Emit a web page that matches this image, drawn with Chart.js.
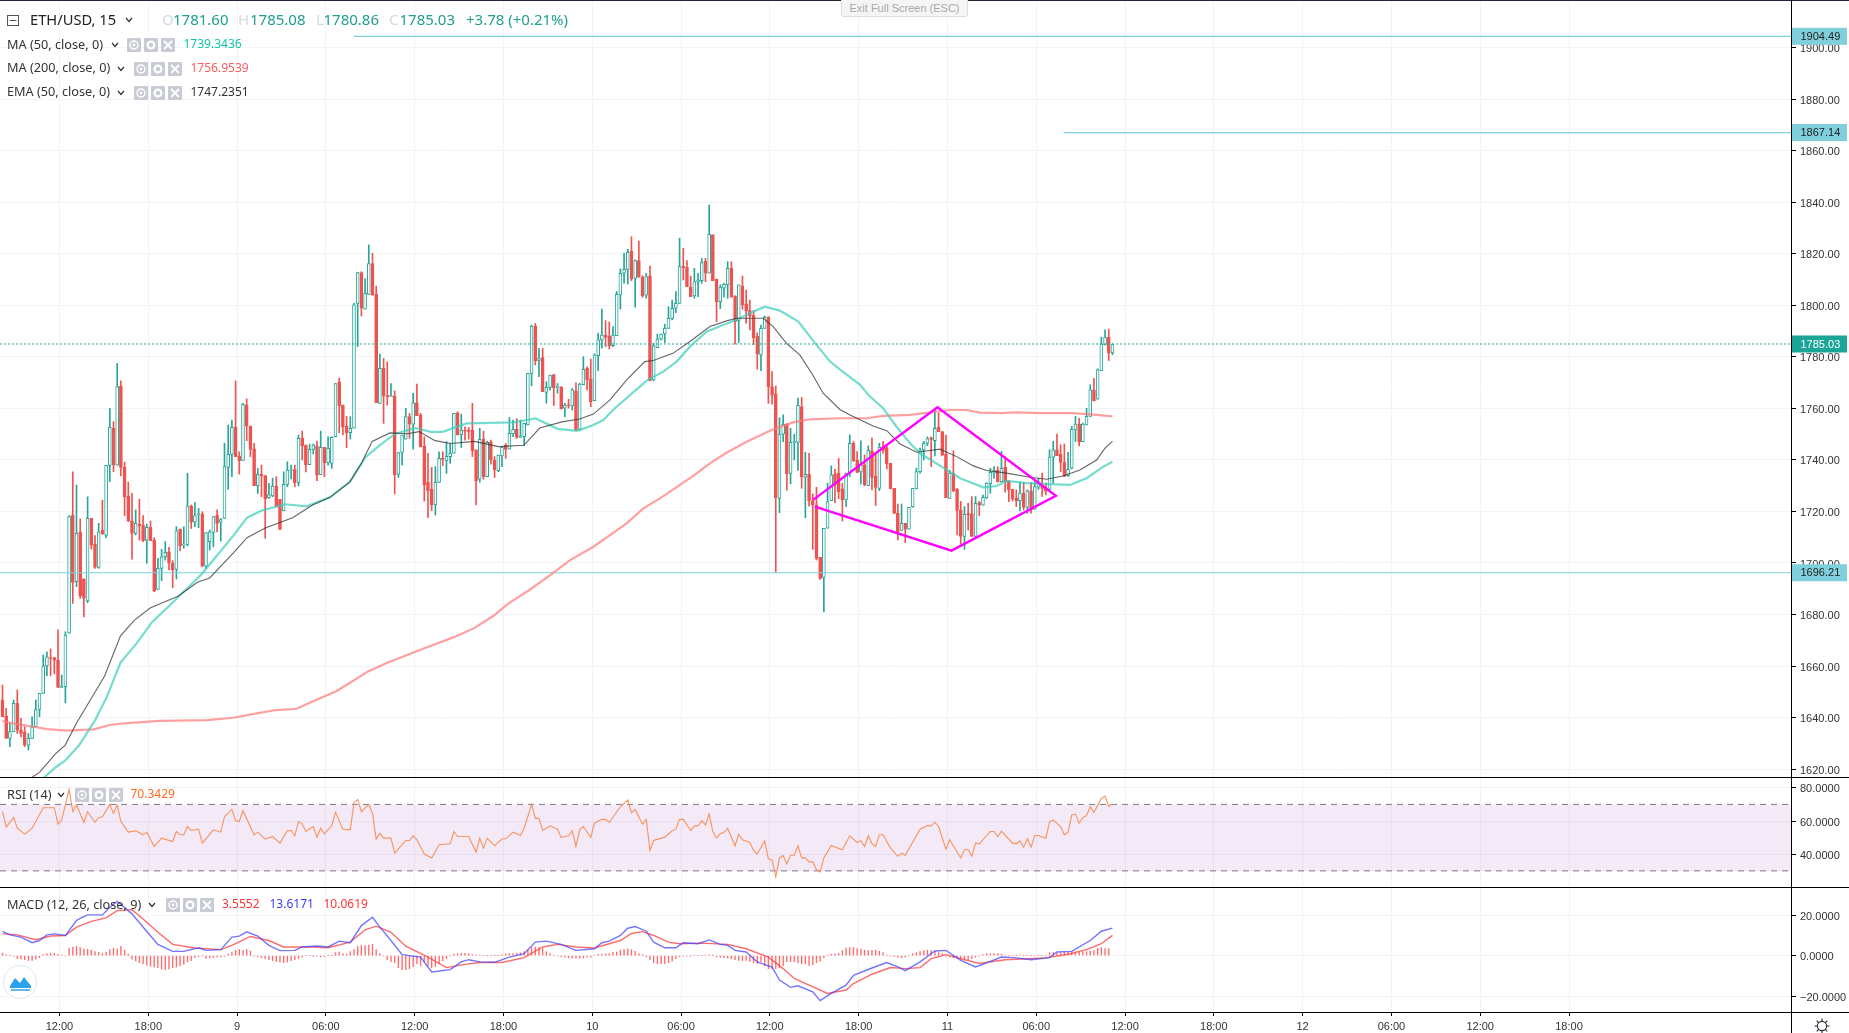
<!DOCTYPE html>
<html>
<head>
<meta charset="utf-8">
<title>ETH/USD, 15</title>
<script src="https://cdn.jsdelivr.net/npm/chart.js@4/dist/chart.umd.min.js"></script>
<style>
  html, body { margin: 0; padding: 0; background: #fff; overflow: hidden; }
  #page { position: relative; width: 1849px; height: 1033px; overflow: hidden; font-family: "Noto Sans", sans-serif; color: #333; }
  canvas { position: absolute; left: 0; }
  .txt { position: absolute; white-space: nowrap; line-height: 1; }
  .rule { position: absolute; background: #000; }
  svg { position: absolute; }
</style>
</head>
<body>
<div id="page">
  <canvas id="priceChart" width="1849" height="777" style="top:0"></canvas>
  <canvas id="rsiChart" width="1849" height="110" style="top:777px"></canvas>
  <canvas id="macdChart" width="1849" height="146" style="top:887px"></canvas>
</div>
<script>
// candles, one per 15 minutes, first bar is number 0
const opens = [
  1646.8,1640.6,1631.9,1634.5,1645.5,1635.1,1634.2,1629.3,1631.9,1636.4,1643.1,1649.4,1660,1663.3,1663.3,1662.3,1651.7,1652,1672.7,1718.6,1692.7,1712,1693.8,1685.3,1717.3,
  1707.4,1698.3,1712.8,1710.7,1737.9,1752.3,1738,1768.7,1737.1,1726,1716.2,1711.5,1715.1,1714.6,1708.9,1713.8,1708.9,1689.7,1697.9,1702.4,1704.3,1699.9,1697.5,1713.2,1707,
  1707,1722.1,1715.8,1718.8,1719,1698.8,1708.3,1711.9,1718.6,1715.8,1717.3,1737.1,1742.2,1752.7,1741.4,1739.8,1761.3,1753.2,1744.3,1730,1734.4,1733.9,1725.4,1726,1729.9,
  1724.7,1720.3,1730.5,1735.9,1736.3,1731.3,1748.4,1745.8,1738.2,1744.1,1745.5,1734.3,1744.9,1738.9,1738.7,1749,1770.1,1761.3,1753.2,1750.6,1752.3,1800.8,1812.8,1798.6,1804.3,
  1816.3,1804.3,1762,1775.6,1764.9,1764.6,1764.8,1734.4,1742.9,1748.1,1756.8,1753.9,1762.2,1757.4,1745.4,1731.3,1728.6,1722.5,1731.3,1740.6,1739.7,1741.3,1742.6,1758.3,1749.8,
  1751.5,1751.4,1751.6,1743.9,1732.5,1748,1733.5,1747,1740,1735.8,1741.6,1745.7,1744.2,1750.1,1751.9,1748.8,1749,1753.6,1773.6,1792,1778.5,1779.8,1766.2,1768.2,1773.2,
  1768.2,1768.2,1760.1,1761.3,1761,1766.8,1751.9,1769.2,1775.7,1771.5,1763,1780.5,1786.6,1788.4,1788.1,1784.4,1788.3,1804.1,1812.5,1814,1821,1810.5,1817.4,1811,1804,
  1811.5,1771.1,1783.6,1786.9,1788.9,1791.1,1795,1798.9,1800.8,1815.2,1814.8,1807,1803.7,1809.1,1809.6,1817.1,1812.5,1827.4,1810.2,1801.5,1806.7,1808.1,1814.4,1803.7,1794,
  1807.6,1800.6,1798,1796.2,1788.1,1780.8,1791.1,1795.4,1768.5,1765.6,1725.1,1750,1754,1734.8,1746.7,1746.8,1760.7,1733.3,1734.4,1724.1,1722.5,1702.2,1694.4,1713.5,1724.2,
  1734.6,1734.8,1728.8,1724.5,1734.9,1746.5,1740,1735.4,1738.1,1730,1743.5,1733.6,1729,1745.2,1744.8,1738.7,1729,1719.3,1712.6,1715.4,1713.1,1721.9,1728.8,1735.5,1743.9,
  1746.5,1748.6,1747.5,1752.7,1751,1742.2,1725.1,1734.9,1728.6,1720.6,1710.3,1719.2,1719.1,1710.3,1723.5,1722.4,1725.4,1730.8,1734.9,1736.1,1731.6,1737.2,1731.9,1728.6,1725.1,
  1724.2,1727.1,1721.6,1728,1720.9,1729.4,1730.3,1729.3,1728.6,1741.1,1743.9,1742.2,1739.1,1733.9,1736.8,1751.7,1754,1747.1,1753.6,1756.9,1767.2,1763.6,1774.7,1784.7,1787.7,1781.6
];
const closes = [
  1640.3,1631.9,1634.5,1645.5,1635.1,1633.8,1629.3,1631.9,1636.4,1643.1,1649.4,1660,1663.6,1662.9,1662.3,1651.7,1652.2,1672,1718,1692.5,1711.5,1687.3,1686.3,1717.3,1707,
  1698.3,1712.1,1711.2,1737.9,1752.7,1738,1768.5,1737.1,1725.7,1716.3,1711.5,1715.4,1714.5,1708.7,1713.8,1708.7,1689.2,1697.9,1702.4,1704.1,1699.9,1697.3,1712.5,1706.7,1707.4,
  1722.1,1715.8,1718.4,1719,1698.8,1711.8,1712.1,1718,1715.4,1716.9,1737.4,1742.2,1752.7,1741.3,1739.7,1761.6,1753.3,1744.1,1730,1734.4,1733.9,1725,1726.6,1729.9,1721.9,
  1713,1730.5,1736.1,1736.3,1731.2,1748.4,1745.5,1738.2,1744.1,1745.8,1734.1,1744.9,1738.9,1744.5,1748.8,1769.7,1761.1,1752.9,1750.6,1752.3,1800.2,1812.8,1798.9,1804.7,1816.3,
  1804,1762.2,1775.6,1765,1764.6,1764.9,1734.1,1742.9,1749.7,1756.8,1753.9,1762.2,1757.2,1745.1,1730.3,1728,1722.5,1731.3,1740.6,1740.2,1741.4,1742.6,1758.1,1749.7,1751.6,
  1751.2,1751.1,1743.6,1731.9,1748,1733.5,1746.8,1740,1736.1,1741.9,1744.9,1744.1,1750.3,1751.9,1748.8,1749.4,1754.2,1773.6,1792,1778.5,1779.4,1766.5,1768.2,1773,1768,
  1768.4,1759.8,1761.3,1761,1767.2,1751.6,1769.5,1775.2,1771.1,1762.6,1780.8,1786.6,1788.5,1787.6,1784.4,1788.5,1804.3,1812.5,1814,1820.6,1810.2,1817.4,1811,1803.7,1811.2,
  1770.8,1784.3,1786.9,1788.9,1791.1,1795,1798.9,1800.8,1815.1,1814.6,1807.3,1803.4,1809.3,1809.9,1816.6,1812.5,1827.6,1809.6,1801.5,1807.1,1808.2,1814.4,1803.2,1793.7,1808,
  1800.2,1798,1795.9,1787.5,1781.2,1791.1,1795.4,1768.5,1765.2,1725.4,1750,1753.8,1734.6,1746.8,1747.1,1761.2,1733.3,1734.4,1724.2,1722.5,1701.8,1694,1713.5,1723.8,1734.2,
  1730.3,1727.7,1724.5,1734.9,1746.5,1739.6,1735.2,1738.1,1730.3,1743.7,1733.2,1729.3,1745,1743.7,1738.5,1728.8,1719.2,1712.2,1715.4,1713.1,1721.6,1729,1735.5,1743.9,1746.5,
  1748.3,1748,1752.3,1751,1742,1725.4,1734.9,1728,1720.4,1710.3,1718.9,1718.8,1710.3,1723.2,1722.4,1725.5,1731,1735.2,1735.9,1731.6,1736.8,1731.6,1728.4,1724.9,1724.2,
  1727.1,1721.6,1728,1720.6,1729.7,1731,1729,1728,1741.1,1743.9,1741.7,1739,1733.6,1736.4,1751.9,1753.9,1747.1,1753.9,1756.9,1767.2,1762.9,1775,1785.1,1787.7,1781.5,1785.03
];
const highs = [
  1652.6,1643.5,1637.7,1646.8,1650.7,1639.7,1636.4,1633.8,1640.3,1646.8,1649.4,1664.3,1665.5,1666.6,1663.3,1674,1656.5,1673.3,1718.4,1735.4,1730.3,1717.1,1693.8,1725.7,1717.3,
  1710.6,1715.4,1724.4,1737.9,1760,1754.9,1777.5,1770.7,1739.2,1731.4,1727,1720.6,1724.8,1718.4,1715.1,1716.3,1709.8,1701.8,1705.3,1708.3,1706.1,1700.9,1714.1,1713.2,1714.1,
  1734.8,1722.5,1723.5,1721.2,1719.9,1711.8,1712.8,1718,1720.6,1717.3,1746.5,1753.6,1755.5,1770.7,1743.2,1762,1763.7,1753.2,1746.5,1736.7,1738,1733.9,1730.9,1732.9,1733.5,
  1724.7,1735.4,1739.3,1738,1738,1749.7,1751.2,1745.8,1746.2,1746.2,1747.3,1751.2,1744.9,1749,1749,1769.7,1771.8,1761.3,1757,1756.8,1800.8,1812.8,1813.1,1810.3,1823.5,
  1820.2,1807.5,1781.1,1779.4,1778.1,1769.7,1766.8,1742.9,1749.7,1760,1758.1,1765.9,1769.5,1758.1,1749,1742.6,1737.1,1737.4,1743.2,1743.2,1747.1,1746.4,1758.1,1758.7,1757.8,
  1752.9,1752.6,1762,1743.9,1752.3,1751.2,1747.3,1747.7,1741.3,1741.9,1744.9,1746.4,1756.5,1755.5,1756.1,1755.5,1754.2,1773.6,1792.4,1793,1783.3,1783.3,1770.4,1773,1773.2,
  1769.7,1768.5,1762,1763.6,1767.8,1770,1769.8,1780.1,1776.2,1779.2,1781.2,1789.2,1798.6,1794.1,1793.6,1791.8,1805.4,1814.2,1820.2,1821.8,1826.7,1817.7,1825,1811.6,1812.5,
  1815.3,1785.3,1788.9,1788.9,1792.7,1799.5,1802.1,1805.4,1826.1,1822.2,1817.4,1811.4,1814.4,1812.5,1818.3,1818.3,1839,1827.4,1810.2,1808,1808.6,1817,1817,1803.7,1808,
  1811.4,1806,1802.1,1798,1789.4,1792.4,1795.9,1795.7,1774.3,1768.7,1756.4,1757.5,1754,1752.3,1750,1764,1764.3,1743,1742.6,1726.8,1729.4,1702.2,1713.5,1731,1737.7,
  1736.4,1740.6,1731,1734.9,1749.7,1747.2,1743.3,1747.4,1742,1745.5,1748.6,1743,1746.5,1747.2,1745.9,1738.7,1729,1722.9,1722.9,1715.4,1721.6,1729,1736.8,1744.6,1747.2,
  1749,1749,1759.4,1758.2,1751,1749.7,1736,1743.5,1729,1723.9,1721.9,1723.2,1725.8,1725.8,1723.9,1726.4,1731.2,1736.8,1737.4,1737.4,1743.3,1741.3,1731.9,1728.6,1728.4,
  1731.4,1731.2,1728.4,1731.2,1731.6,1732.9,1734.9,1731,1744,1747.2,1750.1,1745.9,1746.2,1743,1753,1756.9,1756.2,1754.3,1760.1,1769.2,1771.7,1775.4,1787.7,1790.5,1790.8,1785.08
];
const lows = [
  1640.3,1631.9,1628.7,1634.5,1633.8,1632.5,1628.7,1627.4,1631.9,1636.4,1640.3,1649.4,1656.2,1656.2,1656.9,1651.7,1651.7,1645.7,1672.7,1684.3,1690.8,1686.3,1679.1,1684.6,1705.4,
  1697.9,1697.9,1711.2,1709.8,1731.6,1735.4,1738,1733.8,1718.4,1716,1701.5,1710.9,1708.9,1708.3,1699.9,1708.7,1688.8,1689.7,1693.1,1701.1,1697.3,1690.4,1693.8,1704.8,1705.7,
  1706.6,1713.4,1714.1,1713.7,1698.6,1697.9,1705,1706.3,1712.1,1708.5,1717.3,1728.6,1733.5,1741.3,1734.5,1739.8,1747.5,1741.3,1730,1727,1725.7,1709.6,1725.1,1725.7,1721.9,
  1713,1720.3,1729.6,1732.6,1729.6,1729.9,1740,1735.4,1738.2,1742.3,1732,1734.3,1733.5,1738,1736.7,1749,1750.6,1749.7,1744.8,1748.1,1752.3,1784,1795.9,1798.6,1804.3,
  1804,1762.2,1762,1754.2,1761.3,1764.6,1726.8,1733.2,1738,1748.1,1748.4,1744.2,1757.2,1745.1,1724,1717.6,1720.3,1718.6,1731.3,1737.8,1734.8,1738.7,1742.6,1749.7,1744.8,
  1747.7,1748.1,1741.3,1722.5,1731.3,1732.5,1733.5,1738.4,1733.2,1735.4,1737.4,1740.6,1744.2,1749,1748.4,1748.8,1745.5,1753.6,1768.8,1776.9,1772.3,1766.5,1762,1767.1,1761.1,
  1765.9,1759.8,1756.8,1760.1,1759.4,1751.6,1751.4,1769.2,1767.2,1760.7,1763,1774.7,1783.4,1784,1783.1,1784,1788.3,1798.6,1808.6,1808.3,1809.6,1799.3,1811,1803.2,1802.8,
  1770.8,1770.8,1783.6,1786.6,1785.6,1791.1,1794.4,1797.2,1800.8,1809.9,1807.3,1803.4,1802.8,1803.4,1808.6,1809.2,1812.5,1809.6,1793.7,1798.8,1803.2,1802.8,1803.2,1785,1785.6,
  1798.5,1793.1,1790.5,1784.7,1775.2,1774.7,1791.1,1762,1761.7,1696.4,1719.5,1747.1,1728.3,1730.7,1740,1735.9,1729,1717.6,1722.1,1705.3,1701.1,1693.6,1681,1713.5,1724.2,
  1723.4,1725,1716.3,1721.9,1733.6,1739.4,1735.1,1730.7,1730,1730,1728.4,1722.3,1728.1,1742.6,1736.5,1728.8,1719.2,1709,1712.6,1707.9,1713.1,1721.6,1728.8,1734.9,1740,
  1745.5,1737.4,1741.6,1751,1741.6,1725.4,1725.1,1727.7,1710.9,1707.4,1705.3,1712.8,1710.3,1710,1718.4,1722.4,1725.1,1727.1,1732.9,1731.4,1731.4,1727.5,1723.8,1724.1,1721.9,
  1720.2,1720.6,1719.3,1719.3,1720.9,1728.6,1725.8,1726.4,1728.4,1731,1741.7,1735.5,1733.6,1733.6,1736.5,1747.2,1745.5,1747.1,1753.6,1756.9,1762.9,1763.6,1774.7,1784.7,1778.6,1780.86
];

// moving averages, read at the bends of each line
const ma50Bars = [8,10.5,14.2,16.9,20.7,25,28.2,31.9,36.2,40.4,45.3,49.6,53.8,58.1,62.4,66.1,69.9,76.3,82.2,88.5,93.9,98.2,101.9,106.2,111.5,115.8,119,125.4,131.8,138.2,144.1,150,155.4,159.7,162.4,165.5,169.6,174.1,178.6,182.2,185.8,190.3,194.8,198.4,202.9,206.1,210.1,215.1,220,223.7,226.4,231.8,234,238,241.6,245.3,248,253.4,258.8,265.1,268.7,271.4,276.8,283.1,288.5,293,297.5,300];
const ma50Values = [1608,1615.7,1620.5,1623.2,1629.2,1638.9,1648,1661.3,1668.7,1677,1683.7,1689.7,1695.6,1703.1,1710.6,1717.6,1720.3,1722.8,1722,1725.5,1731.5,1741.2,1745.7,1750.2,1752.4,1750.9,1750.9,1754.2,1754.4,1754.6,1756.1,1752.1,1751.3,1753.6,1755.5,1760.1,1765.2,1770.8,1774.3,1778.2,1784,1789.8,1792.4,1794.4,1797.6,1799.5,1798,1793.7,1784.7,1778.2,1775.1,1769.2,1765.3,1760.1,1753,1746.5,1742.6,1737.8,1732.9,1729.4,1729.9,1731.9,1731,1730.6,1730.3,1732.9,1737.4,1739.34];
const ma200Bars = [0,4,8.4,12,17.4,24.6,29,32.7,42.6,55.2,62.4,68.7,74,79.5,84.7,90.1,93.4,98.8,104,114.2,122.2,127.6,132.8,136.6,142.6,148.4,153.2,159.7,168.7,173.2,177.7,186.7,191.2,195.7,201.1,208.3,213.7,218.2,226.4,233.6,238,245.3,252.5,256.1,260.6,264.2,269.6,274.1,280.4,289.4,295.7,300];
const ma200Values = [1638.6,1637.4,1636.4,1635.5,1634.9,1635.4,1637.1,1637.7,1638.7,1639,1639.9,1641.6,1642.9,1643.4,1646.8,1650.1,1653,1657.9,1661.3,1667,1671.3,1674.8,1679.6,1684.1,1689.7,1695.7,1700.9,1706.3,1715.4,1721.2,1725.1,1733.8,1738.7,1742.8,1747.1,1751.9,1754.6,1755.8,1756.2,1756.2,1757.1,1757.5,1758.8,1759.4,1759.4,1758.4,1758.2,1758.5,1758.2,1758.2,1757.5,1756.95];
const emaBars = [6.8,10,14.3,16.9,20.1,23.9,27.6,31.9,35.6,39.9,47.4,52.8,56,62.4,66.1,71,78.4,83.8,88.5,93.9,97.1,99.9,104.7,109.4,112.6,116.9,121.2,127.6,134,140.9,145.2,151.2,156,159.7,164.2,168.7,173.6,175.9,181.2,185.8,191.2,195.7,198.4,205.6,208.3,211.9,215.5,219,221.8,226.4,229.1,235.3,239,242.6,247.1,253.4,257.9,262.4,266,271.4,277.7,282.2,286.6,291.2,295.7,298,300];
const emaValues = [1615.7,1618.7,1625.9,1629.2,1638.1,1647.2,1656.1,1671.7,1677.7,1682.5,1687.1,1692.6,1694.2,1703.9,1709.8,1713.6,1717.6,1722.5,1725.5,1731.5,1739,1747.2,1750.5,1750.2,1751,1747.5,1746.4,1747.2,1745.2,1745.7,1752.4,1754.8,1755.9,1757.8,1763.3,1771.1,1778.2,1778.6,1781.4,1786,1791.8,1794,1795,1795,1791.8,1785.3,1780.8,1773,1765.9,1759.5,1757.5,1753.2,1751.4,1746.2,1743,1744.2,1741.3,1737.7,1735.9,1734.9,1733.3,1732.5,1733.8,1736.1,1740,1744.6,1747.24];

// magenta diamond drawn on the chart
const diamondBars = [219.1,252.7,284.7,256.5,219.6];
const diamondPrices = [1724.5,1760.5,1726.1,1704.8,1721.9];

// horizontal levels, with the bar each one starts from
const levelPrices = [1904.49,1867.14,1696.21];
const levelStarts = [95,286.8,-1];
const lastPrice = 1785.03;

const rsiBars = [0,1,3,4,6,8,11,14,15,16,18,19,20,22,23,25,26,27,29,30,31,32,34,36,38,39,41,43,46,47,48,49,50,51,53,54,57,59,60,62,63,64,65,68,69,71,73,75,77,78,79,80,81,82,84,85,86,87,89,90,92,94,95,96,97,99,100,101,102,103,105,106,109,110,111,112,114,116,118,121,122,123,126,128,129,130,131,133,135,136,138,140,141,143,144,145,146,148,150,151,153,154,155,156,157,159,160,162,163,164,167,169,170,171,173,174,175,176,179,181,182,183,184,186,187,188,189,190,191,192,193,194,195,196,198,199,200,202,203,204,206,207,208,209,210,211,212,213,214,215,216,217,218,219,220,221,222,224,227,229,231,232,233,234,235,236,237,238,240,242,243,244,248,250,251,252,253,255,256,259,260,261,262,263,264,267,268,269,270,273,274,275,276,277,278,279,280,282,283,284,286,287,288,289,290,291,292,293,294,295,297,298,299,300];
const rsiValues = [65.6,56.3,62.2,55.7,52.1,55.7,68,68,58.1,60.6,79,65.6,69.6,59.1,65.6,59.3,62,62.6,70,64.6,69.6,59.7,53.3,54.1,51.7,53.3,44.7,49.7,47.7,53.7,51.7,51.7,56.7,54.3,55.1,46.7,54.7,53.3,62.6,67,60.2,59.7,66.2,51.7,53.3,49.1,50.7,46.7,54.1,54.3,51.1,59.7,58.3,53.7,56.7,50.3,55.7,52.3,57.3,65.2,55.1,54.7,71,73,65.6,70,64.6,49.1,52.7,49.7,49.7,40.7,48.3,48.3,51.1,48.7,40.1,37.8,45.7,46.3,53.7,50.7,50.7,41.3,49.7,43.7,49.7,45.1,49.3,49.3,53.3,51.3,55.7,70,61.6,61.6,54.3,57.1,55.1,50.1,51.1,54.1,44.7,54.7,56.7,50.1,58.7,61,61,59.1,68.6,72.6,65,67,58.1,61,42.3,48.3,50.3,54.1,55.1,61,61,54.3,57.1,57.1,60.2,57.7,64.2,53.7,49.7,52.3,53.1,55.7,45.1,52.1,48.7,47.1,42.3,40.1,48.1,37.2,36.4,26.4,37.8,39.2,34.2,39.4,39.4,45.1,37.8,37.8,35.4,35.4,30.8,29.4,37.8,45.3,42.7,51.1,47.1,48.1,44.7,51.1,46.3,44.7,51.7,51.7,43.7,38.8,40.7,39.4,55.1,57.3,57.1,59.3,56.7,43.1,48.7,37.8,42.7,42.7,38.8,46.7,46.3,53.7,53.7,50.7,53.9,46.7,46.3,48.1,44.3,49.3,44.3,51.3,51.3,49.7,59.7,60.6,56.7,51.7,53.1,63.6,64.2,58.7,62,63.2,68.6,65.2,73.6,75,69,70.34];
const rsiUpper = 70;
const rsiLower = 30;

const macdBars = [0,2,5,8,10,12,14,17,20,21,23,27,29,31,35,39,42,46,49,53,55,59,62,64,66,69,72,75,79,81,85,88,91,94,97,100,102,105,108,113,116,121,124,126,129,133,137,141,144,147,151,155,160,162,164,167,169,171,174,176,179,182,184,188,191,194,196,198,201,204,208,210,213,215,219,221,224,228,230,235,239,242,244,248,252,255,259,263,266,270,274,278,283,285,289,294,297,300];
const macdValues = [12,10.3,9.2,6.4,7.5,10.3,10.8,10,17.4,18.5,20.2,20.2,24,26.9,20.7,12,5.6,2.1,2.1,3.9,2.6,3,9.2,9.7,11.8,9.7,5.1,2.5,2.6,4.3,4.8,4.3,7.2,6.4,14.9,19,14.1,7.5,0.5,-0.7,-8.1,-6.9,-3.1,-2,-3.1,-3.3,-0.7,1,6.7,7.2,5.6,2.6,3.4,6.4,7.2,10,13.6,14.4,12.1,6.7,3.9,3.9,6.4,5.9,7.8,5.6,5.1,2.6,1.8,-3.1,-5.6,-12.1,-15.7,-14.9,-17.9,-22.3,-18.7,-14.6,-9.7,-6.1,-3.4,-5.6,-7.4,-3.1,2.3,2.6,-2.3,-5.6,-3.6,-0.7,-1.1,-2,-1,1.8,2.1,7.5,12.1,13.62];
const signalBars = [0,4,9,13,17,20,24,28,31,35,38,42,46,52,59,62,67,72,76,84,88,94,98,101,105,109,115,120,125,129,135,141,146,150,155,160,167,170,173,176,180,183,189,196,201,207,211,214,218,223,228,230,235,240,244,248,251,255,259,264,271,277,282,288,293,297,300];
const signalValues = [10.8,10.3,7.9,9.7,10,14.1,17,18.7,22.3,22.8,18.2,11.6,5.6,3.8,3,5.1,9.5,7.5,4.3,4.3,3.9,6.7,12.8,14.6,11.6,4.7,-0.7,-5.9,-4.3,-3.4,-3.4,-1,4.3,5.6,4.3,3.8,7.5,11,11.9,10,6.7,5.9,6.2,5.6,3.4,-0.7,-6.4,-11.3,-14.6,-18.7,-17,-13.8,-9.2,-5.9,-6.4,-5.9,-1.5,0.5,-1.5,-3.9,-2,-1.5,-1.1,0.7,3,5.9,10.06];
const histValues = [
  1.3,0.5,0.3,-0.3,-1.5,-1.8,-2,-2.4,-2.3,-1.8,-1,0.5,1,1.2,1.2,0.6,0.2,-0.2,3.8,4.3,4.6,4,3.2,3.2,2.8,
  2,1.6,1,1.6,3,3.7,3.2,4.6,2.7,0.8,-1.8,-2.6,-3.4,-4,-4.7,-5.2,-5.6,-6,-6.6,-6.9,-6.6,-6,-5.6,-5,-4.3,
  -3,-2.5,-1,-0.5,0,-1.4,-1.1,-0.9,-0.8,-0.6,-0.4,0.8,1.8,2.7,3,2.5,3,2.2,-0.2,-0.5,-0.9,-1.5,-2,-2.5,-3,
  -3.1,-3.5,-3.2,-2.5,-2,-1.4,-0.7,0,0,-0.5,-0.2,-0.6,-0.5,0,0,1.5,1.8,1,0.8,2,3,4.5,5,5,5.3,
  5.6,3,1,-0.3,-2,-3,-3.5,-6,-7,-7,-6.5,-5.5,-4,-5,-3,-5,-6,-5.5,-4,-2.5,-1.5,-0.3,0.8,1,1.1,
  1.2,1,0.5,0.3,0.3,0,0,0.2,0.1,0,0.4,0.8,1,1,1.2,1.4,2,3,4,4.3,4,3.5,2,1,0.3,
  -0.2,-0.5,-0.8,-1,-1.2,-1.2,-1.3,-1.1,-0.8,-0.7,0.2,0.6,0.8,0.9,1,1.6,1.8,2.7,3,3.2,3,2.2,1,0.5,-0.5,
  -2,-3.5,-4,-4,-4,-3.5,-2.7,-1.5,-0.6,-0.2,-0.2,-0.3,0,0,0.3,0.2,0.4,0.1,-0.7,-0.9,-1,-1.2,-1.6,-2,-2.4,
  -2.4,-2.4,-2.8,-3.6,-3.8,-3,-5,-6.5,-6.7,-6.5,-6,-5,-3,-3,-3,-3.5,-4,-4,-4.8,-4.5,-3.5,-2.7,-1,0,0.6,
  0.8,1.2,2.5,3.7,4,4,3.5,3.3,2.8,2.5,2.6,2.7,2.2,1.5,0.2,-0.2,-0.5,-0.8,-1,-0.8,0.3,1,1.5,2,2.5,
  2.7,2.5,2.2,1.5,1,-0.3,-0.6,-1,-1,-2,-2.3,-2,-1.5,-0.8,-0.3,0.5,1,1,1,1,0.8,0.3,0,0,0.1,
  0.2,0.2,0.2,0,0,0.1,0.3,0.3,1.5,1.7,1.2,1.4,1.6,1.7,1.8,1.9,1.9,1.9,2,2.1,2.5,3.7,4,3.5,3.55
];

// axis ticks
const priceTicks = [1620,1640,1660,1680,1700,1720,1740,1760,1780,1800,1820,1840,1860,1880,1900];
const rsiTicks = [40,60,80];
const macdTicks = [-20,0,20];
const timeTickBars = [15.4,39.4,63.4,87.4,111.4,135.4,159.4,183.4,207.4,231.4,255.4,279.4,303.4,327.4,351.4,375.4,399.4,423.4];
const timeTickLabels = ['12:00','18:00','9','06:00','12:00','18:00','10','06:00','12:00','18:00','11','06:00','12:00','18:00','12','06:00','12:00','18:00'];

const UP = '#26a69a';
const DOWN = '#ef5350';
const LEVEL = '#7fcfdc';
const GRID = '#f2f3f7';
const AXIS_FONT = { family: '"Liberation Sans", Arial, sans-serif', size: 11 };
const FIRST_BAR = -0.676;
const LAST_BAR = 483.4;

function pairs(xs, ys) {
    return xs.map((x, i) => ({ x: x, y: ys[i] }));
}

function lineSet(data, color, width, extra) {
    return Object.assign({ type: 'line', data: data, borderColor: color, borderWidth: width, pointRadius: 0, tension: 0, fill: false }, extra || {});
}

// the label padding chart.js adds would shrink the plot, the panes must line up exactly
function dropPadding(axis) {
    axis.paddingTop = axis.paddingBottom = axis.paddingLeft = axis.paddingRight = 0;
}

function timeAxis(showLabels) {
    return {
        type: 'linear', min: FIRST_BAR, max: LAST_BAR, offset: false,
        afterBuildTicks: axis => { axis.ticks = timeTickBars.map(v => ({ value: v })); },
        afterFit: axis => { axis.height = showLabels ? 21 : 0; dropPadding(axis); },
        border: { display: false },
        // bar charts put grid lines between ticks unless told otherwise
        grid: { offset: false, color: GRID, drawTicks: showLabels, tickLength: 4, tickColor: '#000' },
        ticks: {
            display: showLabels, autoSkip: false, maxRotation: 0, padding: 4, color: '#333', font: AXIS_FONT,
            callback: (v, i) => timeTickLabels[i]
        }
    };
}

function valueAxis(min, max, tickValues, label) {
    return {
        position: 'right', min: min, max: max,
        afterBuildTicks: axis => { axis.ticks = tickValues.map(v => ({ value: v })); },
        afterFit: axis => { axis.width = 58; dropPadding(axis); },
        border: { display: false },
        grid: { color: GRID, tickLength: 5, tickColor: '#000' },
        ticks: { autoSkip: false, padding: 4, labelOffset: 1.5, color: '#333', font: AXIS_FONT, callback: label }
    };
}

const baseOptions = {
    responsive: false, animation: false, devicePixelRatio: 1,
    layout: { padding: 0, autoPadding: false },
    plugins: { legend: { display: false }, tooltip: { enabled: false } }
};

// coloured value tags over the price axis
const priceTags = {
    id: 'priceTags',
    afterDraw(chart) {
        const ctx = chart.ctx;
        const y = chart.scales.y;
        const draw = (value, fill, color) => {
            const py = y.getPixelForValue(value);
            ctx.fillStyle = fill;
            ctx.fillRect(1791, py - 8.5, 56, 17);
            ctx.fillStyle = color;
            ctx.font = '11px "Liberation Sans", Arial, sans-serif';
            ctx.textBaseline = 'middle';
            ctx.fillText(value.toFixed(2), 1800.5, py + 0.5);
        };
        levelPrices.forEach(p => draw(p, LEVEL, '#222'));
        draw(lastPrice, '#1ba597', '#fff');
    }
};

const barNumbers = closes.map((c, i) => i);
const isUp = barNumbers.map(i => closes[i] >= opens[i]);

new Chart(document.getElementById('priceChart'), {
    data: {
        datasets: [
            lineSet(pairs(diamondBars, diamondPrices), '#ff00ff', 2.4, { order: 0 }),
            lineSet(pairs(emaBars, emaValues), 'rgba(50,50,50,0.75)', 1.1, { order: 1 }),
            {
                type: 'bar', order: 3, grouped: false, barThickness: 3, minBarLength: 1, borderWidth: 1, borderSkipped: false,
                data: barNumbers.map(i => ({ x: i, y: [opens[i], closes[i]] })),
                backgroundColor: isUp.map(u => u ? '#fff' : DOWN),
                borderColor: isUp.map(u => u ? UP : DOWN)
            },
            {
                type: 'bar', order: 4, grouped: false, barThickness: 1,
                data: barNumbers.map(i => ({ x: i, y: [lows[i], highs[i]] })),
                backgroundColor: isUp.map(u => u ? UP : DOWN)
            },
            lineSet(pairs(ma50Bars, ma50Values), 'rgba(58,205,185,0.7)', 2.2, { order: 2 }),
            lineSet(pairs(ma200Bars, ma200Values), 'rgba(255,120,120,0.7)', 2.2, { order: 2 }),
            lineSet(pairs([FIRST_BAR, LAST_BAR], [lastPrice, lastPrice]), '#1ba597', 1, { order: 2, borderDash: [2, 2] }),
            ...levelPrices.map((p, i) => lineSet(pairs([levelStarts[i], LAST_BAR], [p, p]), LEVEL, 1.2, { order: 2 }))
        ]
    },
    options: Object.assign({}, baseOptions, {
        scales: {
            x: timeAxis(false),
            y: valueAxis(1616.9, 1918.6, priceTicks, v => v.toFixed(2))
        }
    }),
    plugins: [priceTags]
});

new Chart(document.getElementById('rsiChart'), {
    data: {
        datasets: [
            lineSet(pairs(rsiBars, rsiValues), '#f7935c', 1.1, { order: 0 }),
            lineSet(pairs([FIRST_BAR, LAST_BAR], [rsiUpper, rsiUpper]), '#787b86', 1, { order: 1, borderDash: [6, 5], fill: '+1', backgroundColor: 'rgba(150,40,165,0.1)' }),
            lineSet(pairs([FIRST_BAR, LAST_BAR], [rsiLower, rsiLower]), '#787b86', 1, { order: 1, borderDash: [6, 5] })
        ]
    },
    options: Object.assign({}, baseOptions, {
        scales: {
            x: timeAxis(false),
            y: valueAxis(20.3, 86.5, rsiTicks, v => v.toFixed(4))
        }
    })
});

new Chart(document.getElementById('macdChart'), {
    data: {
        datasets: [
            lineSet(pairs(macdBars, macdValues), 'rgba(70,70,255,0.75)', 1.4, { order: 0 }),
            lineSet(pairs(signalBars, signalValues), 'rgba(255,70,70,0.8)', 1.4, { order: 0 }),
            {
                type: 'bar', order: 1, barThickness: 0.7,
                data: barNumbers.map(i => ({ x: i, y: histValues[i] })),
                backgroundColor: '#ff6b6b'
            }
        ]
    },
    options: Object.assign({}, baseOptions, {
        scales: {
            x: timeAxis(true),
            y: valueAxis(-27.9, 34, macdTicks, v => (v < 0 ? '\u2212' + Math.abs(v).toFixed(4) : v.toFixed(4)))
        }
    })
});

// pane separators and the legend text on top of the canvases
const page = document.getElementById('page');

function rule(l, t, w, h, color) {
    const d = document.createElement('div');
    d.className = 'rule';
    d.style.cssText = `left:${l}px;top:${t}px;width:${w}px;height:${h}px;` + (color ? `background:${color}` : '');
    page.appendChild(d);
}

function text(str, l, cy, size, color, font) {
    const s = document.createElement('span');
    s.className = 'txt';
    s.textContent = str;
    s.style.cssText = `left:${l}px;top:${cy - size / 2 - 1}px;font-size:${size}px;color:${color};` + (font ? `font-family:${font}` : '');
    page.appendChild(s);
}

function svg(l, t, w, h, inner) {
    page.insertAdjacentHTML('beforeend', `<svg style="left:${l}px;top:${t}px" width="${w}" height="${h}" viewBox="0 0 ${w} ${h}">${inner}</svg>`);
}

function chevron(l, cy) {
    svg(l, cy - 3, 8, 6, '<path d="M1 1 L4 4.5 L7 1" fill="none" stroke="#333" stroke-width="1.2"/>');
}

function indicatorIcons(l, cy) {
    const box = '<rect width="14" height="14" rx="1" fill="#c8cbd3"/>';
    svg(l, cy - 7, 14, 14, box + '<circle cx="7" cy="7" r="4" fill="none" stroke="#fff" stroke-width="1.4"/><circle cx="7" cy="7" r="1.4" fill="#fff"/>');
    svg(l + 17, cy - 7, 14, 14, box + '<circle cx="7" cy="7" r="3.4" fill="none" stroke="#fff" stroke-width="2.2"/>');
    svg(l + 34, cy - 7, 14, 14, box + '<path d="M3 3 L11 11 M11 3 L3 11" stroke="#fff" stroke-width="1.8"/>');
}

rule(0, 0, 1849, 1, '#1e2738');
rule(0, 777, 1849, 1);
rule(0, 887, 1849, 1);
rule(0, 1012, 1849, 1);
rule(1791, 0, 1, 1033);

svg(7, 15, 12, 11, '<rect x="0.5" y="0.5" width="11" height="10" fill="none" stroke="#555"/><path d="M2.5 5.5 H9.5" stroke="#555"/>');
text('ETH/USD, 15', 30, 20, 14.7, '#222');
chevron(125, 20);
const GREEN_TEXT = '#1f9e8f';
const FADED = '#d5d8df';
text('O', 162, 20, 15, FADED);
text('1781.60', 173, 20, 15, GREEN_TEXT);
text('H', 238, 20, 15, FADED);
text('1785.08', 250, 20, 15, GREEN_TEXT);
text('L', 316, 20, 15, FADED);
text('1780.86', 323.5, 20, 15, GREEN_TEXT);
text('C', 389, 20, 15, FADED);
text('1785.03', 399.5, 20, 15, GREEN_TEXT);
text('+3.78 (+0.21%)', 466, 20, 15, GREEN_TEXT);

text('MA (50, close, 0)', 7, 45, 12.7, '#333');
chevron(111, 45);
indicatorIcons(127, 45);
text('1739.3436', 183.5, 45, 12, '#12c4ab');
text('MA (200, close, 0)', 7, 68.5, 12.7, '#333');
chevron(117, 68.5);
indicatorIcons(134, 68.5);
text('1756.9539', 190.5, 68.5, 12, '#ff5a5f');
text('EMA (50, close, 0)', 7, 92.5, 12.7, '#333');
chevron(117, 92.5);
indicatorIcons(134, 92.5);
text('1747.2351', 190.5, 92.5, 12, '#333');

text('RSI (14)', 7, 795, 12.7, '#333');
chevron(57, 795);
indicatorIcons(75, 795);
text('70.3429', 130.5, 795, 12, '#ff6a1f');

text('MACD (12, 26, close, 9)', 7, 905, 12.7, '#333');
chevron(148, 905);
indicatorIcons(166, 905);
text('3.5552', 222, 905, 12, '#ff3535');
text('13.6171', 269.5, 905, 12, '#3a3aff');
text('10.0619', 323.5, 905, 12, '#ff3535');

// full screen hint at the top
const hint = document.createElement('div');
hint.className = 'txt';
hint.textContent = 'Exit Full Screen (ESC)';
hint.style.cssText = 'left:841px;top:-1px;width:125px;height:16px;line-height:16px;text-align:center;font:11px/16px "Liberation Sans",Arial,sans-serif;color:#a8a8a8;background:#f5f5f5;border:1px solid #ddd;border-radius:0 0 3px 3px';
page.appendChild(hint);

// logo badge and settings gear
svg(2, 964, 36, 36, '<circle cx="18" cy="18" r="16.5" fill="#fff" stroke="#e4e4e4" stroke-width="1"/><path d="M8 22 L13 14 L18 19 L22 13 L29 22 L29 24 L8 24 Z" fill="#2ba3ea"/><path d="M9 26 H28" stroke="#2ba3ea" stroke-width="1.5"/>');
svg(1814, 1018, 16, 16, '<circle cx="8" cy="8" r="4.6" fill="none" stroke="#252a3a" stroke-width="1.1"/><path d="M8 0.5 V3.4 M8 12.6 V15.5 M0.5 8 H3.4 M12.6 8 H15.5 M2.7 2.7 L4.8 4.8 M11.2 11.2 L13.3 13.3 M13.3 2.7 L11.2 4.8 M4.8 11.2 L2.7 13.3" stroke="#252a3a" stroke-width="1.1"/>');
</script>
</body>
</html>
